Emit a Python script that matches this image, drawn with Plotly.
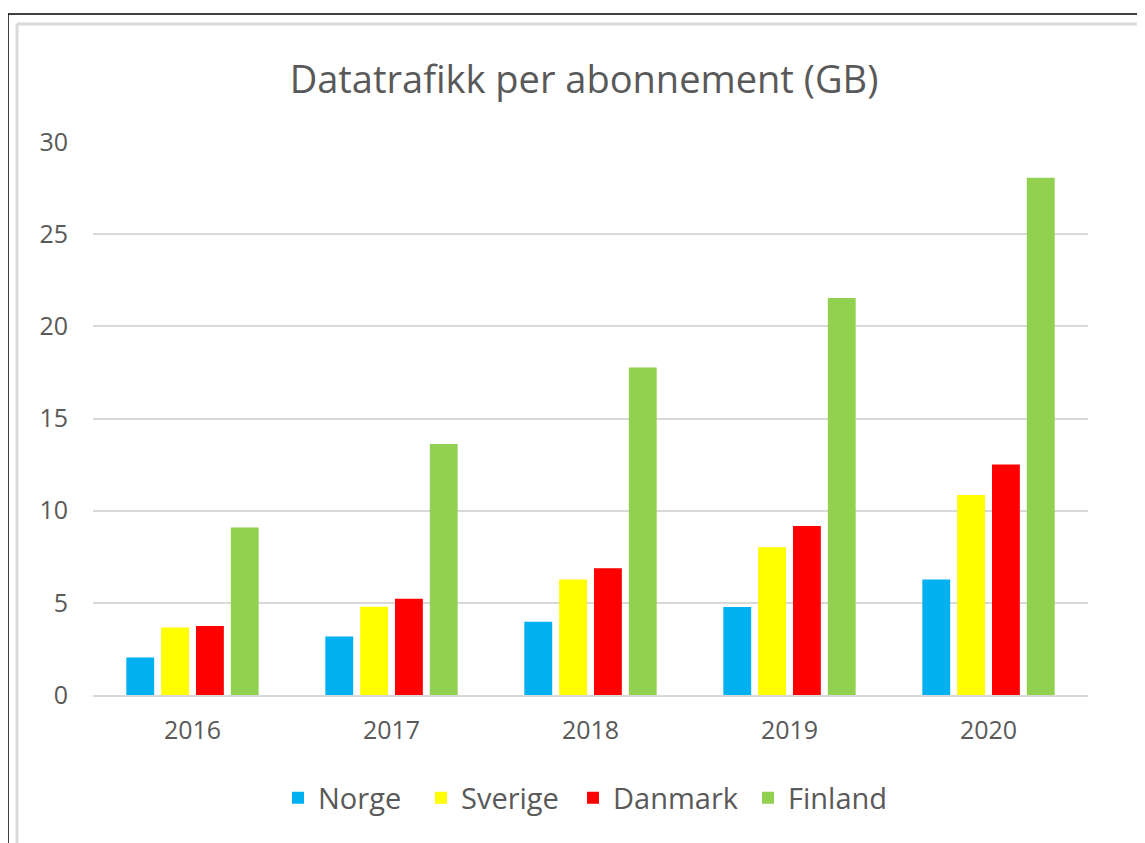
import plotly.graph_objects as go

years = ["2016", "2017", "2018", "2019", "2020"]
norge = [2.03, 3.17, 3.97, 4.78, 6.26]
sverige = [3.66, 4.79, 6.27, 8.01, 10.85]
danmark = [3.75, 5.22, 6.87, 9.17, 12.5]
finland = [9.09, 13.62, 17.77, 21.54, 28.06]

series = [("Norge", norge, "#00B0F0"), ("Sverige", sverige, "#FFFF00"),
          ("Danmark", danmark, "#FF0000"), ("Finland", finland, "#92D050")]

OFF = 8  # page offset of the figure (body margin)
W, H = 1145 - OFF, 843 - OFF
PL, PR, PT, PB = 93, 1088, 142, 695
L, T = PL - OFF, PT - OFF
R = W - (PR - OFF)
B = H - (PB - OFF)
pw, ph = W - L - R, H - T - B

def px_x(x):
    return (x - OFF - L) / pw

def px_y(y):
    return (H - B - (y - OFF)) / ph

font = "Open Sans, Lato, sans-serif"
legend_names = ["legend", "legend2", "legend3", "legend4"]
legend_x = [290, 433, 585, 760]  # page x of each legend swatch (reference)

fig = go.Figure()
for (name, vals, col), lg in zip(series, legend_names):
    fig.add_trace(go.Bar(x=years, y=vals, name=name, legend=lg,
                         marker=dict(color=col, line=dict(width=0))))

layout_legends = {}
for lg, lx in zip(legend_names, legend_x):
    layout_legends[lg] = dict(orientation="h", x=px_x(lx - 12), xanchor="left",
                              y=px_y(798), yanchor="middle", itemwidth=30,
                              font=dict(family=font, size=29, color="#595959"),
                              bgcolor="rgba(0,0,0,0)")

fig.update_layout(
    width=W, height=H,
    margin=dict(l=L, r=R, t=T, b=B),
    paper_bgcolor="white", plot_bgcolor="white",
    barmode="group", bargap=0.3, bargroupgap=0.2,
    title=dict(text="Datatrafikk per abonnement (GB)", x=(584 - OFF) / W, xanchor="center",
               y=1 - (80 - OFF) / H, yanchor="middle",
               font=dict(family=font, size=38, color="#595959")),
    font=dict(family=font, color="#595959"),
    yaxis=dict(range=[0, 30], dtick=5, showgrid=True, gridcolor="#D9D9D9", gridwidth=1.5,
               zeroline=False, showline=False, tickfont=dict(size=25, color="#595959"),
               ticklabelstandoff=24),
    xaxis=dict(showline=True, linecolor="#D9D9D9", linewidth=1.5, showgrid=False,
               tickfont=dict(size=25, color="#595959"), ticklabelstandoff=12),
    showlegend=True,
    **layout_legends,
)

# frame lines (screenshot border)
fig.add_shape(type="line", xref="paper", yref="paper", x0=px_x(8), x1=px_x(1145), y0=px_y(14), y1=px_y(14),
              line=dict(color="black", width=1.5))
fig.add_shape(type="line", xref="paper", yref="paper", x0=px_x(8), x1=px_x(8), y0=px_y(14), y1=px_y(843),
              line=dict(color="black", width=1.5))
fig.add_shape(type="line", xref="paper", yref="paper", x0=px_x(17), x1=px_x(1145), y0=px_y(24), y1=px_y(24),
              line=dict(color="#D9D9D9", width=3))
fig.add_shape(type="line", xref="paper", yref="paper", x0=px_x(17), x1=px_x(17), y0=px_y(24), y1=px_y(843),
              line=dict(color="#D9D9D9", width=3))

fig.write_html("out.html")
